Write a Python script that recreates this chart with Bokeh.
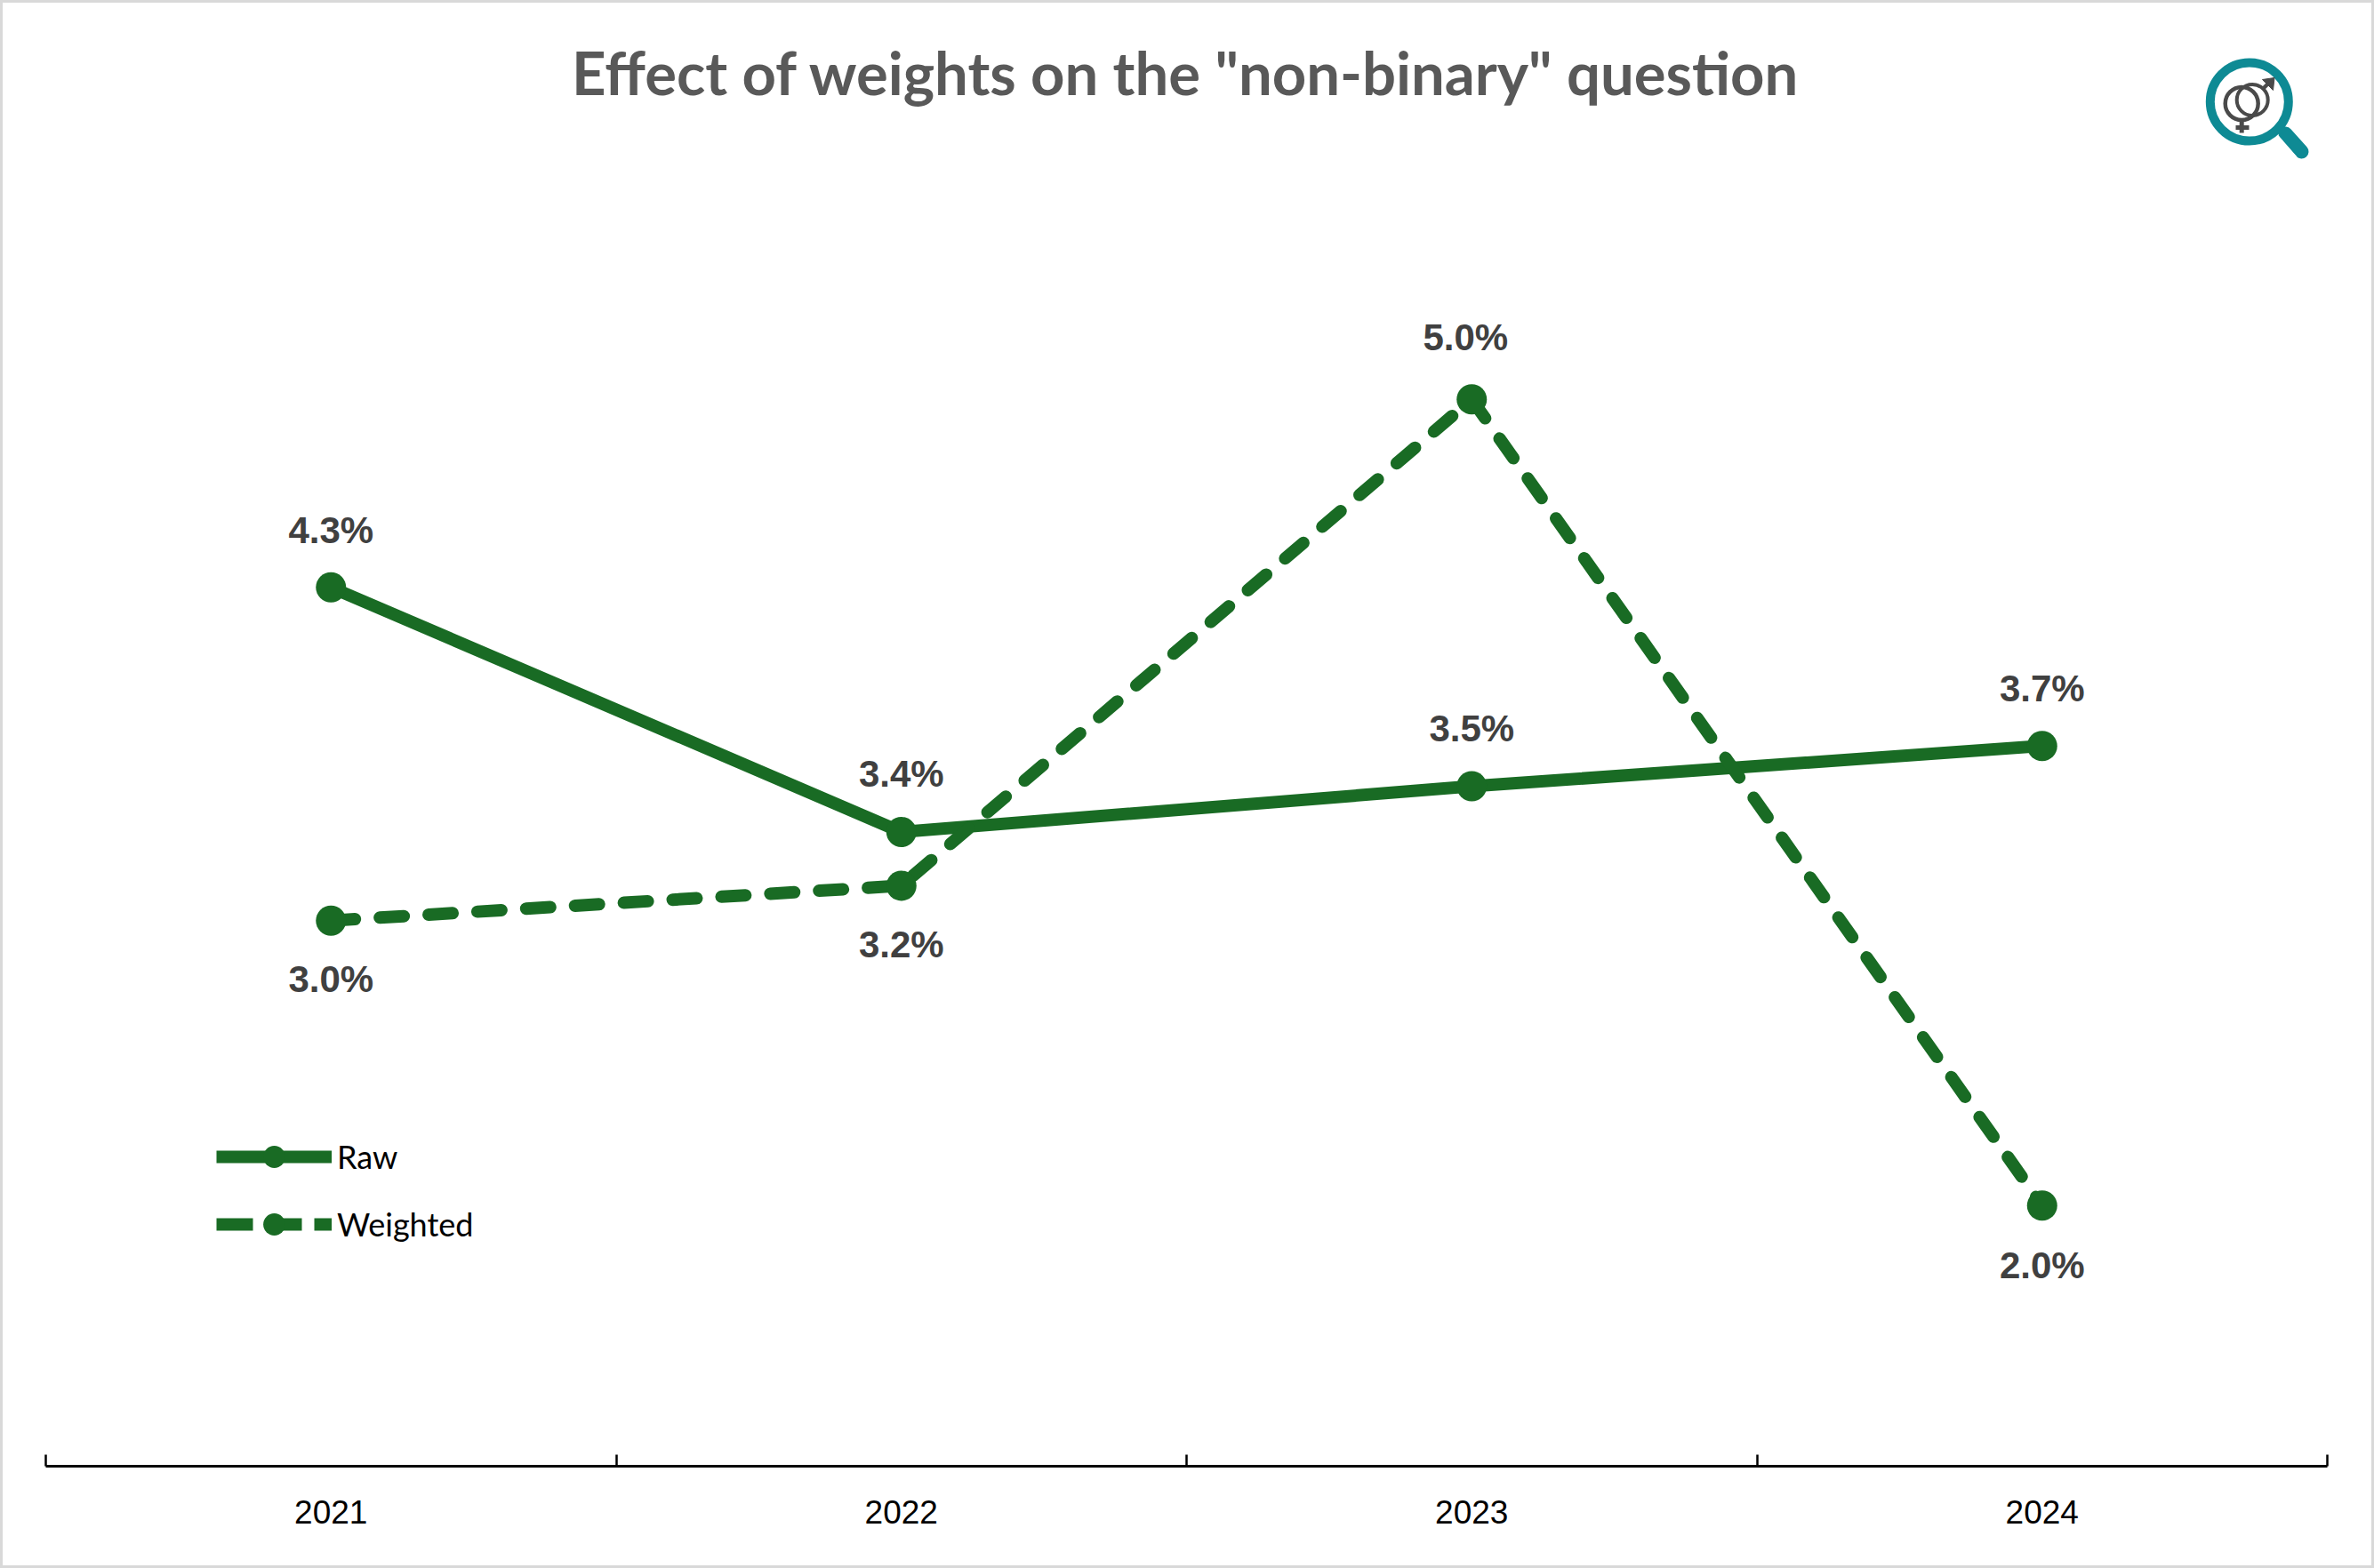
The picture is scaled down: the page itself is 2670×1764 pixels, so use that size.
from bokeh.embed import file_html
from bokeh.resources import INLINE
from bokeh.plotting import figure
from bokeh.models import Range1d, FixedTicker, LinearAxis, Legend, LegendItem, Label
from bokeh.core.properties import value

# ---- data ----
years = ["2021", "2022", "2023", "2024"]
raw = [4.30, 3.39, 3.56, 3.71]
weighted = [3.06, 3.19, 5.00, 2.00]
raw_labels = ["4.3%", "3.4%", "3.5%", "3.7%"]
weighted_labels = ["3.0%", "3.2%", "5.0%", "2.0%"]
title_text = 'Effect of weights on the "non-binary" question'

# ---- style ----
GREEN = "#196B24"
LABEL = "#404040"
TITLE = "#595959"
TEAL = "#0E8A94"
ICON = "#4A4A4A"
LW = 14
DASH = "27 28"

W, H = 2670, 1764
p = figure(width=W, height=H, output_backend="svg", toolbar_location=None,
           x_range=Range1d(0, 4), y_range=Range1d(1.0298, 6.4742),
           x_axis_type=None, y_axis_type=None,
           min_border_left=48, min_border_right=56, min_border_top=0, min_border_bottom=118,
           background_fill_color=None, border_fill_color=None)
p.grid.visible = False
p.outline_line_color = None
p.styles = {"border": "3px solid #D9D9D9", "box-sizing": "border-box"}

# pixel frame for decoration (page pixels)
p.extra_x_ranges["px"] = Range1d(51, 2617)
p.extra_y_ranges["py"] = Range1d(1649, 3)

xs = [i + 0.5 for i in range(len(years))]
boundaries = [float(i) for i in range(len(years) + 1)]

axis = LinearAxis(ticker=FixedTicker(ticks=xs, minor_ticks=boundaries),
                  major_label_overrides={x: y for x, y in zip(xs, years)})
axis.axis_line_color = "black"
axis.axis_line_width = 3
axis.major_tick_line_color = None
axis.major_tick_in = 0
axis.major_tick_out = 0
axis.minor_tick_line_color = "black"
axis.minor_tick_line_width = 2.5
axis.minor_tick_in = 13
axis.minor_tick_out = 0
axis.major_label_text_font = "Liberation Sans"
axis.major_label_text_font_size = "37px"
axis.major_label_text_color = "black"
axis.major_label_standoff = 38
p.add_layout(axis, "below")

# series
p.line(xs, raw, line_color=GREEN, line_width=LW, line_cap="round", line_join="round")
p.scatter(xs, raw, size=34, marker="circle", fill_color=GREEN, line_color=GREEN, line_width=0)
p.line(xs, weighted, line_color=GREEN, line_width=LW, line_dash=DASH, line_cap="round", line_join="round")
p.scatter(xs, weighted, size=34, marker="circle", fill_color=GREEN, line_color=GREEN, line_width=0)

# data labels
p.text(xs, raw, text=raw_labels, text_font=value("Liberation Sans"), text_font_style="bold",
       text_font_size="42px", text_color=LABEL, text_align="center", text_baseline="alphabetic",
       y_offset=[-64, -65, -65, -65])
p.text(xs, weighted, text=weighted_labels, text_font=value("Liberation Sans"), text_font_style="bold",
       text_font_size="42px", text_color=LABEL, text_align="center", text_baseline="alphabetic",
       x_offset=[0, 0, -7, 0], y_offset=[66, 66, -70, 67])

# legend swatches: proxies that sit outside the visible ranges; legend lines have butt caps,
# so their dash is longer than the chart's round-capped one
off = dict(x=[-1, -1], y=[0, 0])
l1 = p.line(line_color=GREEN, line_width=LW, **off)
m1 = p.scatter(marker="circle", size=25, fill_color=GREEN, line_color=GREEN, line_width=0, **off)
l2 = p.line(line_color=GREEN, line_width=LW, line_dash="41 14", **off)
m2 = p.scatter(marker="circle", size=25, fill_color=GREEN, line_color=GREEN, line_width=0, **off)
legend = Legend(items=[LegendItem(label="Raw", renderers=[l1, m1]),
                       LegendItem(label="Weighted", renderers=[l2, m2])],
                location=(192, 241), orientation="vertical",
                glyph_width=130, glyph_height=62, spacing=14, label_standoff=6,
                padding=0, margin=0, border_line_color=None, background_fill_alpha=0,
                label_text_font="Lato", label_text_font_size="36px", label_text_color="black")
p.add_layout(legend, "center")

# title
p.add_layout(Label(x=1333.5, y=80, x_range_name="px", y_range_name="py", text=title_text,
                   text_font="Lato", text_font_style="bold", text_font_size="67px",
                   text_color=TITLE, text_align="center", text_baseline="alphabetic"))

# magnifier icon
kw = dict(x_range_name="px", y_range_name="py")
p.scatter([2529.3], [114], size=88, marker="circle", fill_color=None, line_color=TEAL, line_width=10, **kw)
p.line([2570, 2588], [150, 170], line_color=TEAL, line_width=16, line_cap="round", **kw)
p.line([2562, 2582], [153, 176], line_color="white", line_width=1.5, **kw)
p.scatter([2520.7], [116], size=37, marker="circle", fill_color=None, line_color=ICON, line_width=4.5, **kw)
p.scatter([2532.7], [112], size=35, marker="circle", fill_color=None, line_color=ICON, line_width=4, **kw)
p.line([2544, 2554], [100, 90], line_color=ICON, line_width=4.5, **kw)
p.patch([2544, 2557.5, 2556], [89, 87, 101], fill_color=ICON, line_color=ICON, line_width=1, **kw)
p.line([2520.7, 2520.7], [135, 149], line_color=ICON, line_width=5, **kw)
p.line([2514, 2529], [143, 143], line_color=ICON, line_width=5, **kw)

open("out.html", "w").write(file_html(p, INLINE))
